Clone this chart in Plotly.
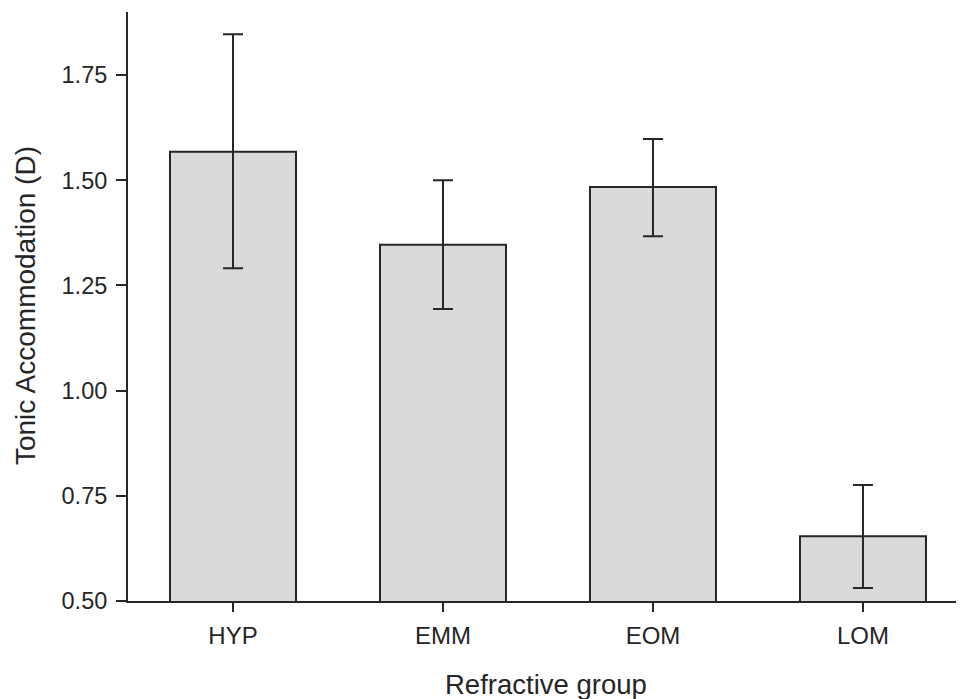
import plotly.graph_objects as go

# Tonic accommodation by refractive group (mean ± error)
groups = ["HYP", "EMM", "EOM", "LOM"]
tonic_mean = [1.568, 1.347, 1.484, 0.654]
err_plus = [0.279, 0.153, 0.114, 0.122]
err_minus = [0.277, 0.153, 0.117, 0.123]

y_ticks = [0.50, 0.75, 1.00, 1.25, 1.50, 1.75]

FONT = "Liberation Sans, Arial, sans-serif"
INK = "#262626"

fig = go.Figure(
    go.Bar(
        x=list(range(len(groups))),
        y=tonic_mean,
        width=0.6,
        marker=dict(color="#dadada", line=dict(color=INK, width=2)),
        error_y=dict(
            type="data",
            symmetric=False,
            array=err_plus,
            arrayminus=err_minus,
            color=INK,
            thickness=2,
            width=10,
        ),
    )
)

fig.update_layout(
    width=960,
    height=699,
    margin=dict(l=128, r=4, t=12, b=98),
    plot_bgcolor="white",
    paper_bgcolor="white",
    showlegend=False,
    font=dict(family=FONT, color=INK),
    xaxis=dict(
        range=[-0.5, 3.443],
        tickmode="array",
        tickvals=list(range(len(groups))),
        ticktext=groups,
        showline=True,
        linecolor=INK,
        linewidth=2,
        ticks="outside",
        ticklen=9,
        tickwidth=1.5,
        tickcolor=INK,
        showgrid=False,
        zeroline=False,
        ticklabelstandoff=3,
        tickfont=dict(size=24, family=FONT, color=INK),
    ),
    yaxis=dict(
        range=[0.5, 1.9],
        tickmode="array",
        tickvals=y_ticks,
        ticktext=[f"{v:.2f}" for v in y_ticks],
        showline=True,
        linecolor=INK,
        linewidth=2,
        ticks="outside",
        ticklen=10,
        tickwidth=1.5,
        tickcolor=INK,
        showgrid=False,
        zeroline=False,
        ticklabelstandoff=4,
        tickfont=dict(size=23.5, family=FONT, color=INK),
    ),
    annotations=[
        dict(
            text="Refractive group",
            xref="paper", yref="paper",
            x=0.505, y=-0.141,
            xanchor="center", yanchor="middle",
            showarrow=False,
            font=dict(size=27.5, family=FONT, color=INK),
        ),
        dict(
            text="Tonic Accommodation (D)",
            xref="paper", yref="paper",
            x=-0.1244, y=0.5025,
            xanchor="center", yanchor="middle",
            textangle=-90,
            showarrow=False,
            font=dict(size=28, family=FONT, color=INK),
        ),
    ],
)

fig.write_html("out.html")
